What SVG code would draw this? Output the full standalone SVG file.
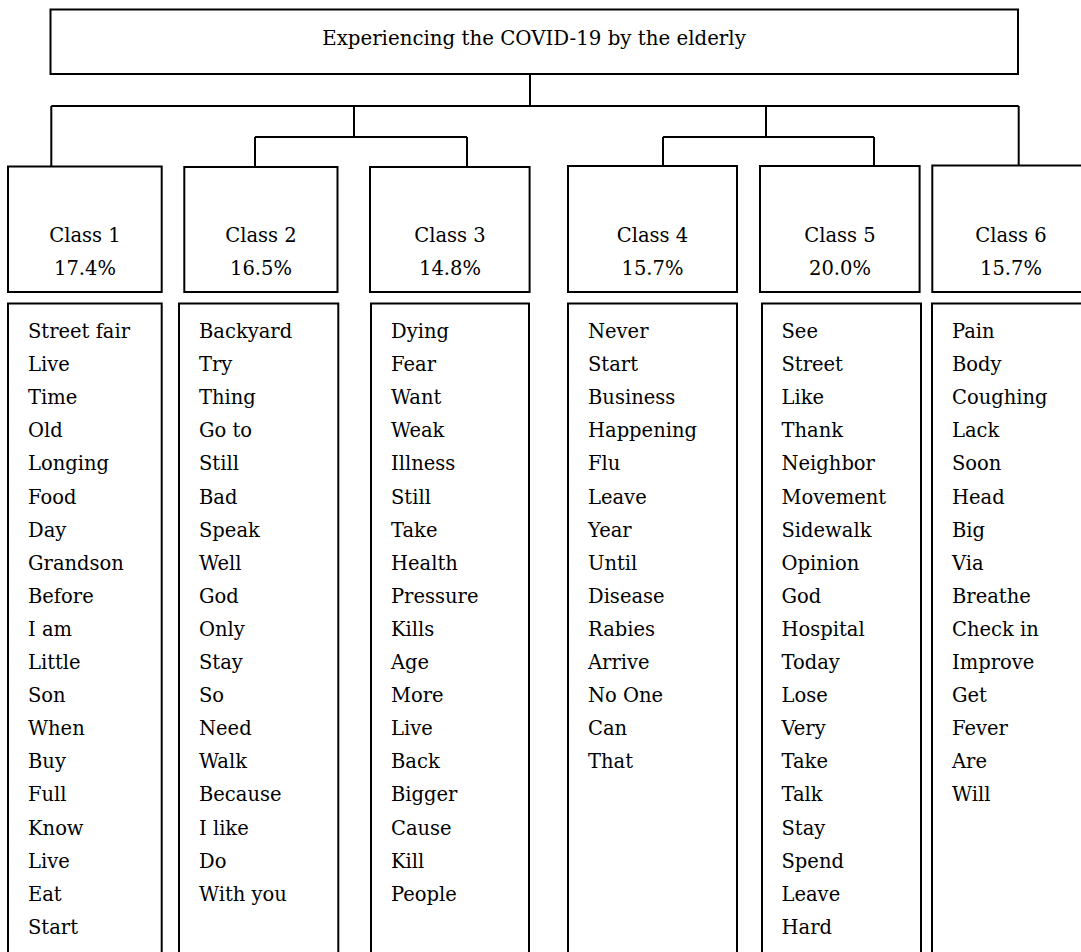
<svg xmlns="http://www.w3.org/2000/svg" width="1081" height="952" viewBox="0 0 1081 952">
<style>
.box{fill:#fff;stroke:#000;stroke-width:2}
.ln{fill:none;stroke:#000;stroke-width:2}
text{font-family:"DejaVu Serif","Liberation Serif",serif;font-size:19.5px;fill:#000}
.c{text-anchor:middle}
</style>
<rect width="1081" height="952" fill="#fff"/>
<g id="connectors">
<path class="ln" d="M530 74V106M51.3 106H1018.7M51.3 106V166M1018.7 106V166"/>
<path class="ln" d="M354 106V137M255 137H467M255 137V167M467 137V167"/>
<path class="ln" d="M766 106V137M663 137H874M663 137V166M874 137V166"/>
</g>
<g id="root">
<rect class="box" x="50.5" y="9.5" width="967.5" height="64.5"/>
<text class="c" x="534" y="45" style="font-size:19.8px">Experiencing the COVID-19 by the elderly</text>
</g>
<g id="class1">
<rect class="box" x="8" y="166.5" width="153.7" height="125.5"/>
<text class="c" x="85" y="241.7">Class 1</text>
<text class="c" x="85" y="275">17.4%</text>
<rect class="box" x="8" y="303.5" width="153.7" height="660"/>
<text x="28" y="338"><tspan x="28">Street fair</tspan><tspan x="28" dy="33.1">Live</tspan><tspan x="28" dy="33.1">Time</tspan><tspan x="28" dy="33.1">Old</tspan><tspan x="28" dy="33.1">Longing</tspan><tspan x="28" dy="33.1">Food</tspan><tspan x="28" dy="33.1">Day</tspan><tspan x="28" dy="33.1">Grandson</tspan><tspan x="28" dy="33.1">Before</tspan><tspan x="28" dy="33.1">I am</tspan><tspan x="28" dy="33.1">Little</tspan><tspan x="28" dy="33.1">Son</tspan><tspan x="28" dy="33.1">When</tspan><tspan x="28" dy="33.1">Buy</tspan><tspan x="28" dy="33.1">Full</tspan><tspan x="28" dy="33.1">Know</tspan><tspan x="28" dy="33.1">Live</tspan><tspan x="28" dy="33.1">Eat</tspan><tspan x="28" dy="33.1">Start</tspan></text>
</g>
<g id="class2">
<rect class="box" x="184.3" y="167" width="153.2" height="125"/>
<text class="c" x="261" y="241.7">Class 2</text>
<text class="c" x="261" y="275">16.5%</text>
<rect class="box" x="179" y="303.5" width="159.3" height="660"/>
<text x="199" y="338"><tspan x="199">Backyard</tspan><tspan x="199" dy="33.1">Try</tspan><tspan x="199" dy="33.1">Thing</tspan><tspan x="199" dy="33.1">Go to</tspan><tspan x="199" dy="33.1">Still</tspan><tspan x="199" dy="33.1">Bad</tspan><tspan x="199" dy="33.1">Speak</tspan><tspan x="199" dy="33.1">Well</tspan><tspan x="199" dy="33.1">God</tspan><tspan x="199" dy="33.1">Only</tspan><tspan x="199" dy="33.1">Stay</tspan><tspan x="199" dy="33.1">So</tspan><tspan x="199" dy="33.1">Need</tspan><tspan x="199" dy="33.1">Walk</tspan><tspan x="199" dy="33.1">Because</tspan><tspan x="199" dy="33.1">I like</tspan><tspan x="199" dy="33.1">Do</tspan><tspan x="199" dy="33.1">With you</tspan></text>
</g>
<g id="class3">
<rect class="box" x="370" y="167" width="159.6" height="125"/>
<text class="c" x="450" y="241.7">Class 3</text>
<text class="c" x="450" y="275">14.8%</text>
<rect class="box" x="371" y="303.5" width="158" height="660"/>
<text x="391" y="338"><tspan x="391">Dying</tspan><tspan x="391" dy="33.1">Fear</tspan><tspan x="391" dy="33.1">Want</tspan><tspan x="391" dy="33.1">Weak</tspan><tspan x="391" dy="33.1">Illness</tspan><tspan x="391" dy="33.1">Still</tspan><tspan x="391" dy="33.1">Take</tspan><tspan x="391" dy="33.1">Health</tspan><tspan x="391" dy="33.1">Pressure</tspan><tspan x="391" dy="33.1">Kills</tspan><tspan x="391" dy="33.1">Age</tspan><tspan x="391" dy="33.1">More</tspan><tspan x="391" dy="33.1">Live</tspan><tspan x="391" dy="33.1">Back</tspan><tspan x="391" dy="33.1">Bigger</tspan><tspan x="391" dy="33.1">Cause</tspan><tspan x="391" dy="33.1">Kill</tspan><tspan x="391" dy="33.1">People</tspan></text>
</g>
<g id="class4">
<rect class="box" x="568" y="166" width="169" height="126"/>
<text class="c" x="652.5" y="241.7">Class 4</text>
<text class="c" x="652.5" y="275">15.7%</text>
<rect class="box" x="568" y="303.5" width="169" height="660"/>
<text x="588" y="338"><tspan x="588">Never</tspan><tspan x="588" dy="33.1">Start</tspan><tspan x="588" dy="33.1">Business</tspan><tspan x="588" dy="33.1">Happening</tspan><tspan x="588" dy="33.1">Flu</tspan><tspan x="588" dy="33.1">Leave</tspan><tspan x="588" dy="33.1">Year</tspan><tspan x="588" dy="33.1">Until</tspan><tspan x="588" dy="33.1">Disease</tspan><tspan x="588" dy="33.1">Rabies</tspan><tspan x="588" dy="33.1">Arrive</tspan><tspan x="588" dy="33.1">No One</tspan><tspan x="588" dy="33.1">Can</tspan><tspan x="588" dy="33.1">That</tspan></text>
</g>
<g id="class5">
<rect class="box" x="760" y="166" width="159.6" height="126"/>
<text class="c" x="840" y="241.7">Class 5</text>
<text class="c" x="840" y="275">20.0%</text>
<rect class="box" x="762" y="303.5" width="159" height="660"/>
<text x="781.5" y="338"><tspan x="781.5">See</tspan><tspan x="781.5" dy="33.1">Street</tspan><tspan x="781.5" dy="33.1">Like</tspan><tspan x="781.5" dy="33.1">Thank</tspan><tspan x="781.5" dy="33.1">Neighbor</tspan><tspan x="781.5" dy="33.1">Movement</tspan><tspan x="781.5" dy="33.1">Sidewalk</tspan><tspan x="781.5" dy="33.1">Opinion</tspan><tspan x="781.5" dy="33.1">God</tspan><tspan x="781.5" dy="33.1">Hospital</tspan><tspan x="781.5" dy="33.1">Today</tspan><tspan x="781.5" dy="33.1">Lose</tspan><tspan x="781.5" dy="33.1">Very</tspan><tspan x="781.5" dy="33.1">Take</tspan><tspan x="781.5" dy="33.1">Talk</tspan><tspan x="781.5" dy="33.1">Stay</tspan><tspan x="781.5" dy="33.1">Spend</tspan><tspan x="781.5" dy="33.1">Leave</tspan><tspan x="781.5" dy="33.1">Hard</tspan></text>
</g>
<g id="class6">
<rect class="box" x="932.3" y="165.5" width="160" height="126.5"/>
<text class="c" x="1011" y="241.7">Class 6</text>
<text class="c" x="1011" y="275">15.7%</text>
<rect class="box" x="932" y="303.5" width="160" height="660"/>
<text x="952" y="338"><tspan x="952">Pain</tspan><tspan x="952" dy="33.1">Body</tspan><tspan x="952" dy="33.1">Coughing</tspan><tspan x="952" dy="33.1">Lack</tspan><tspan x="952" dy="33.1">Soon</tspan><tspan x="952" dy="33.1">Head</tspan><tspan x="952" dy="33.1">Big</tspan><tspan x="952" dy="33.1">Via</tspan><tspan x="952" dy="33.1">Breathe</tspan><tspan x="952" dy="33.1">Check in</tspan><tspan x="952" dy="33.1">Improve</tspan><tspan x="952" dy="33.1">Get</tspan><tspan x="952" dy="33.1">Fever</tspan><tspan x="952" dy="33.1">Are</tspan><tspan x="952" dy="33.1">Will</tspan></text>
</g>
</svg>
